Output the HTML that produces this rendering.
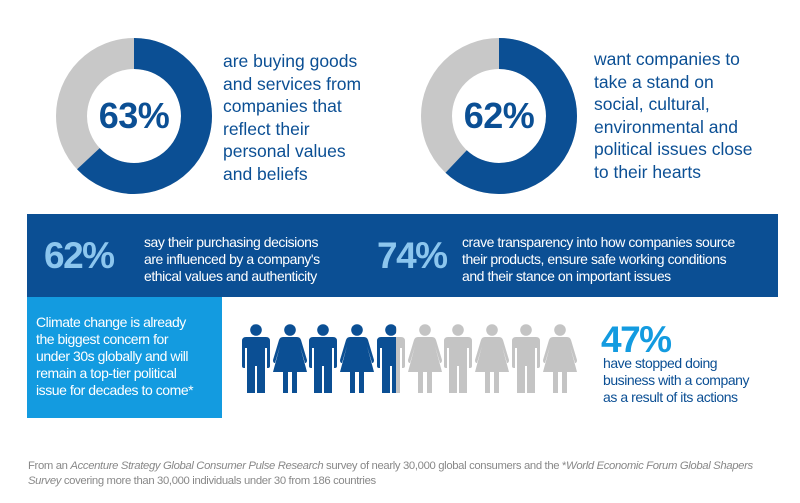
<!DOCTYPE html>
<html><head><meta charset="utf-8"><style>
body{margin:0;width:800px;height:503px;background:#fff;position:relative;overflow:hidden;font-family:"Liberation Sans",Arial,sans-serif}
.a{position:absolute;white-space:nowrap}
.dt{color:#0b4f94;font-size:17.5px;line-height:22.5px}
.pc{font-weight:bold;color:#0b4f94;font-size:36px;text-align:center;width:160px;line-height:40px;letter-spacing:-0.5px}
.bt{color:#fff;font-size:14px;line-height:17px;letter-spacing:-0.45px}
.big{font-size:37px;font-weight:bold;line-height:40px;letter-spacing:-1.5px}
</style></head><body>
<svg class="a" style="left:0;top:0" width="800" height="503">
 <circle cx="134" cy="116" r="62.5" fill="none" stroke="#c8c8c8" stroke-width="31"/>
 <circle cx="134" cy="116" r="62.5" fill="none" stroke="#0b4f94" stroke-width="31" stroke-dasharray="247.4 500" transform="rotate(-90 134 116)"/>
 <circle cx="499" cy="116" r="62.5" fill="none" stroke="#c8c8c8" stroke-width="31"/>
 <circle cx="499" cy="116" r="62.5" fill="none" stroke="#0b4f94" stroke-width="31" stroke-dasharray="243.5 500" transform="rotate(-90 499 116)"/>
 <rect x="27" y="214" width="751" height="83" fill="#0b4f94"/>
 <rect x="27" y="297" width="195" height="121" fill="#139be0"/>
 <defs>
  <g id="man"><circle cx="0" cy="-32" r="5.8"/><path d="M-14,-21 Q-14,-25 -10,-25 L10,-25 Q14,-25 14,-21 L14,4 Q14,6 12,6 L11,6 L11,-14 L9,-14 L9,31 L1,31 L1,4 L-1,4 L-1,31 L-9,31 L-9,-14 L-11,-14 L-11,6 L-12,6 Q-14,6 -14,4 Z"/></g>
  <g id="wom"><circle cx="0" cy="-32" r="5.8"/><path d="M-7,-25 L7,-25 Q10,-25 11,-22 L17,-2 Q17,1 15,1 L10,-16 L17,10 L7,10 L7,31 L2,31 L2,10 L-2,10 L-2,31 L-7,31 L-7,10 L-17,10 L-10,-16 L-15,1 Q-17,1 -17,-2 L-11,-22 Q-10,-25 -7,-25 Z"/></g>
  <clipPath id="cl"><rect x="0" y="300" width="396" height="120"/></clipPath>
  <clipPath id="cr"><rect x="396" y="300" width="300" height="120"/></clipPath>
 </defs>
 <g fill="#0b4f94">
  <use href="#man" x="256" y="362"/><use href="#wom" x="290" y="362"/><use href="#man" x="323" y="362"/><use href="#wom" x="357" y="362"/>
 </g>
 <g fill="#0b4f94" clip-path="url(#cl)"><g transform="translate(391 362)"><use href="#man"/></g></g>
 <g fill="#c4c4c4" clip-path="url(#cr)"><g transform="translate(391 362)"><use href="#man"/></g></g>
 <g fill="#c4c4c4">
  <use href="#wom" x="425" y="362"/><use href="#man" x="458" y="362"/><use href="#wom" x="492" y="362"/><use href="#man" x="526" y="362"/><use href="#wom" x="560" y="362"/>
 </g>
</svg>
<div class="a pc" style="left:54px;top:96px">63%</div>
<div class="a pc" style="left:419px;top:96px">62%</div>
<div class="a dt" style="left:223px;top:50px">are buying goods<br>and services from<br>companies that<br>reflect their<br>personal values<br>and beliefs</div>
<div class="a dt" style="left:594px;top:48px">want companies to<br>take a stand on<br>social, cultural,<br>environmental and<br>political issues close<br>to their hearts</div>
<div class="a big" style="left:44px;top:236px;color:#8cc6ee">62%</div>
<div class="a bt" style="left:144px;top:234px">say their purchasing decisions<br>are influenced by a company's<br>ethical values and authenticity</div>
<div class="a big" style="left:377px;top:236px;color:#8cc6ee">74%</div>
<div class="a bt" style="left:462px;top:234px">crave transparency into how companies source<br>their products, ensure safe working conditions<br>and their stance on important issues</div>
<div class="a bt" style="left:36px;top:314px">Climate change is already<br>the biggest concern for<br>under 30s globally and will<br>remain a top-tier political<br>issue for decades to come*</div>
<div class="a big" style="left:601px;top:320px;color:#139be0">47%</div>
<div class="a bt" style="left:603px;top:355px;color:#0b4f94">have stopped doing<br>business with a company<br>as a result of its actions</div>
<div class="a" style="left:28px;top:459px;font-size:11.3px;line-height:15px;color:#888;letter-spacing:-0.35px">From an <i>Accenture Strategy Global Consumer Pulse Research</i> survey of nearly 30,000 global consumers and the *<i>World Economic Forum Global Shapers</i><br><i>Survey</i> covering more than 30,000 individuals under 30 from 186 countries</div>
</body></html>
